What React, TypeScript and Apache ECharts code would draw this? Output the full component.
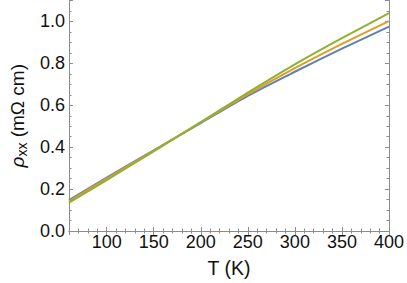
import React, { useEffect, useRef } from "react";
import * as echarts from "echarts";

const temps = [60, 100, 150, 200, 250, 300, 350, 400];
const blueVals = [0.148, 0.255, 0.385, 0.515, 0.645, 0.76, 0.87, 0.975];
const orangeVals = [0.142, 0.25, 0.383, 0.518, 0.652, 0.777, 0.893, 1.002];
const greenVals = [0.135, 0.243, 0.38, 0.52, 0.66, 0.795, 0.92, 1.04];
const seriesColors = ["#5E81B5", "#E19C24", "#8FB032"];

const FONT = "Liberation Sans";
const FRAME = "#8c8c8c";

function pairs(vals: number[]) {
  return temps.map((t, i) => [t, vals[i]]);
}

export default function App() {
  const ref = useRef<HTMLDivElement>(null);
  useEffect(() => {
    if (!ref.current) return;
    const chart = echarts.init(ref.current, null, { renderer: "svg" });
    const tickCommon = {
      axisLine: { show: true, lineStyle: { color: FRAME, width: 1 } },
      axisTick: { show: true, inside: true, length: 4, lineStyle: { color: FRAME } },
      minorTick: { show: true, length: 2.5, lineStyle: { color: FRAME } },
      splitLine: { show: false },
    };
    const xBase = { type: "value", min: 60, max: 400, splitNumber: 7 };
    const yBase = { type: "value", min: 0, max: 1.1, interval: 0.2 };
    chart.setOption({
      animation: false,
      grid: { left: 58, right: 17.5, top: 0.5, bottom: 51, containLabel: false },
      xAxis: [
        {
          ...xBase,
          ...tickCommon,
          minorTick: { ...tickCommon.minorTick, splitNumber: 5 },
          position: "bottom",
          name: "T (K)",
          nameLocation: "middle",
          nameGap: 27,
          nameTextStyle: { fontFamily: FONT, fontSize: 19.5, color: "#111" },
          axisLabel: {
            fontFamily: FONT,
            fontSize: 18,
            color: "#111",
            margin: 2,
            showMinLabel: false,
          },
        },
        {
          ...xBase,
          ...tickCommon,
          minorTick: { ...tickCommon.minorTick, splitNumber: 5 },
          position: "top",
          axisLabel: { show: false },
        },
      ],
      yAxis: [
        {
          ...yBase,
          ...tickCommon,
          minorTick: { ...tickCommon.minorTick, splitNumber: 4 },
          position: "left",
          name: "{rho|ρ}{sub|xx}{txt| (mΩ cm)}",
          nameLocation: "middle",
          nameGap: 40,
          nameTextStyle: {
            fontFamily: FONT,
            fontSize: 19,
            color: "#111",
            rich: {
              rho: { fontFamily: FONT, fontSize: 19, fontStyle: "italic", color: "#111", lineHeight: 23 },
              sub: { fontFamily: FONT, fontSize: 14, color: "#111", lineHeight: 23, verticalAlign: "bottom", padding: [7, 0, 0, 0] },
              txt: { fontFamily: FONT, fontSize: 19, color: "#111", lineHeight: 23 },
            },
          },
          axisLabel: {
            fontFamily: FONT,
            fontSize: 18,
            color: "#111",
            margin: 4,
            showMaxLabel: false,
            formatter: (v: number) => v.toFixed(1),
          },
        },
        {
          ...yBase,
          ...tickCommon,
          minorTick: { ...tickCommon.minorTick, splitNumber: 4 },
          position: "right",
          axisLabel: { show: false },
        },
      ],
      series: [blueVals, orangeVals, greenVals].map((vals, i) => ({
        type: "line",
        xAxisIndex: 0,
        yAxisIndex: 0,
        data: pairs(vals),
        smooth: 0.3,
        showSymbol: false,
        lineStyle: { color: seriesColors[i], width: 2 },
        itemStyle: { color: seriesColors[i] },
      })),
    });
    return () => chart.dispose();
  }, []);
  return (
    <div
      ref={ref}
      style={{ position: "fixed", left: 0, top: 0, width: 407, height: 283, background: "#fff" }}
    />
  );
}
